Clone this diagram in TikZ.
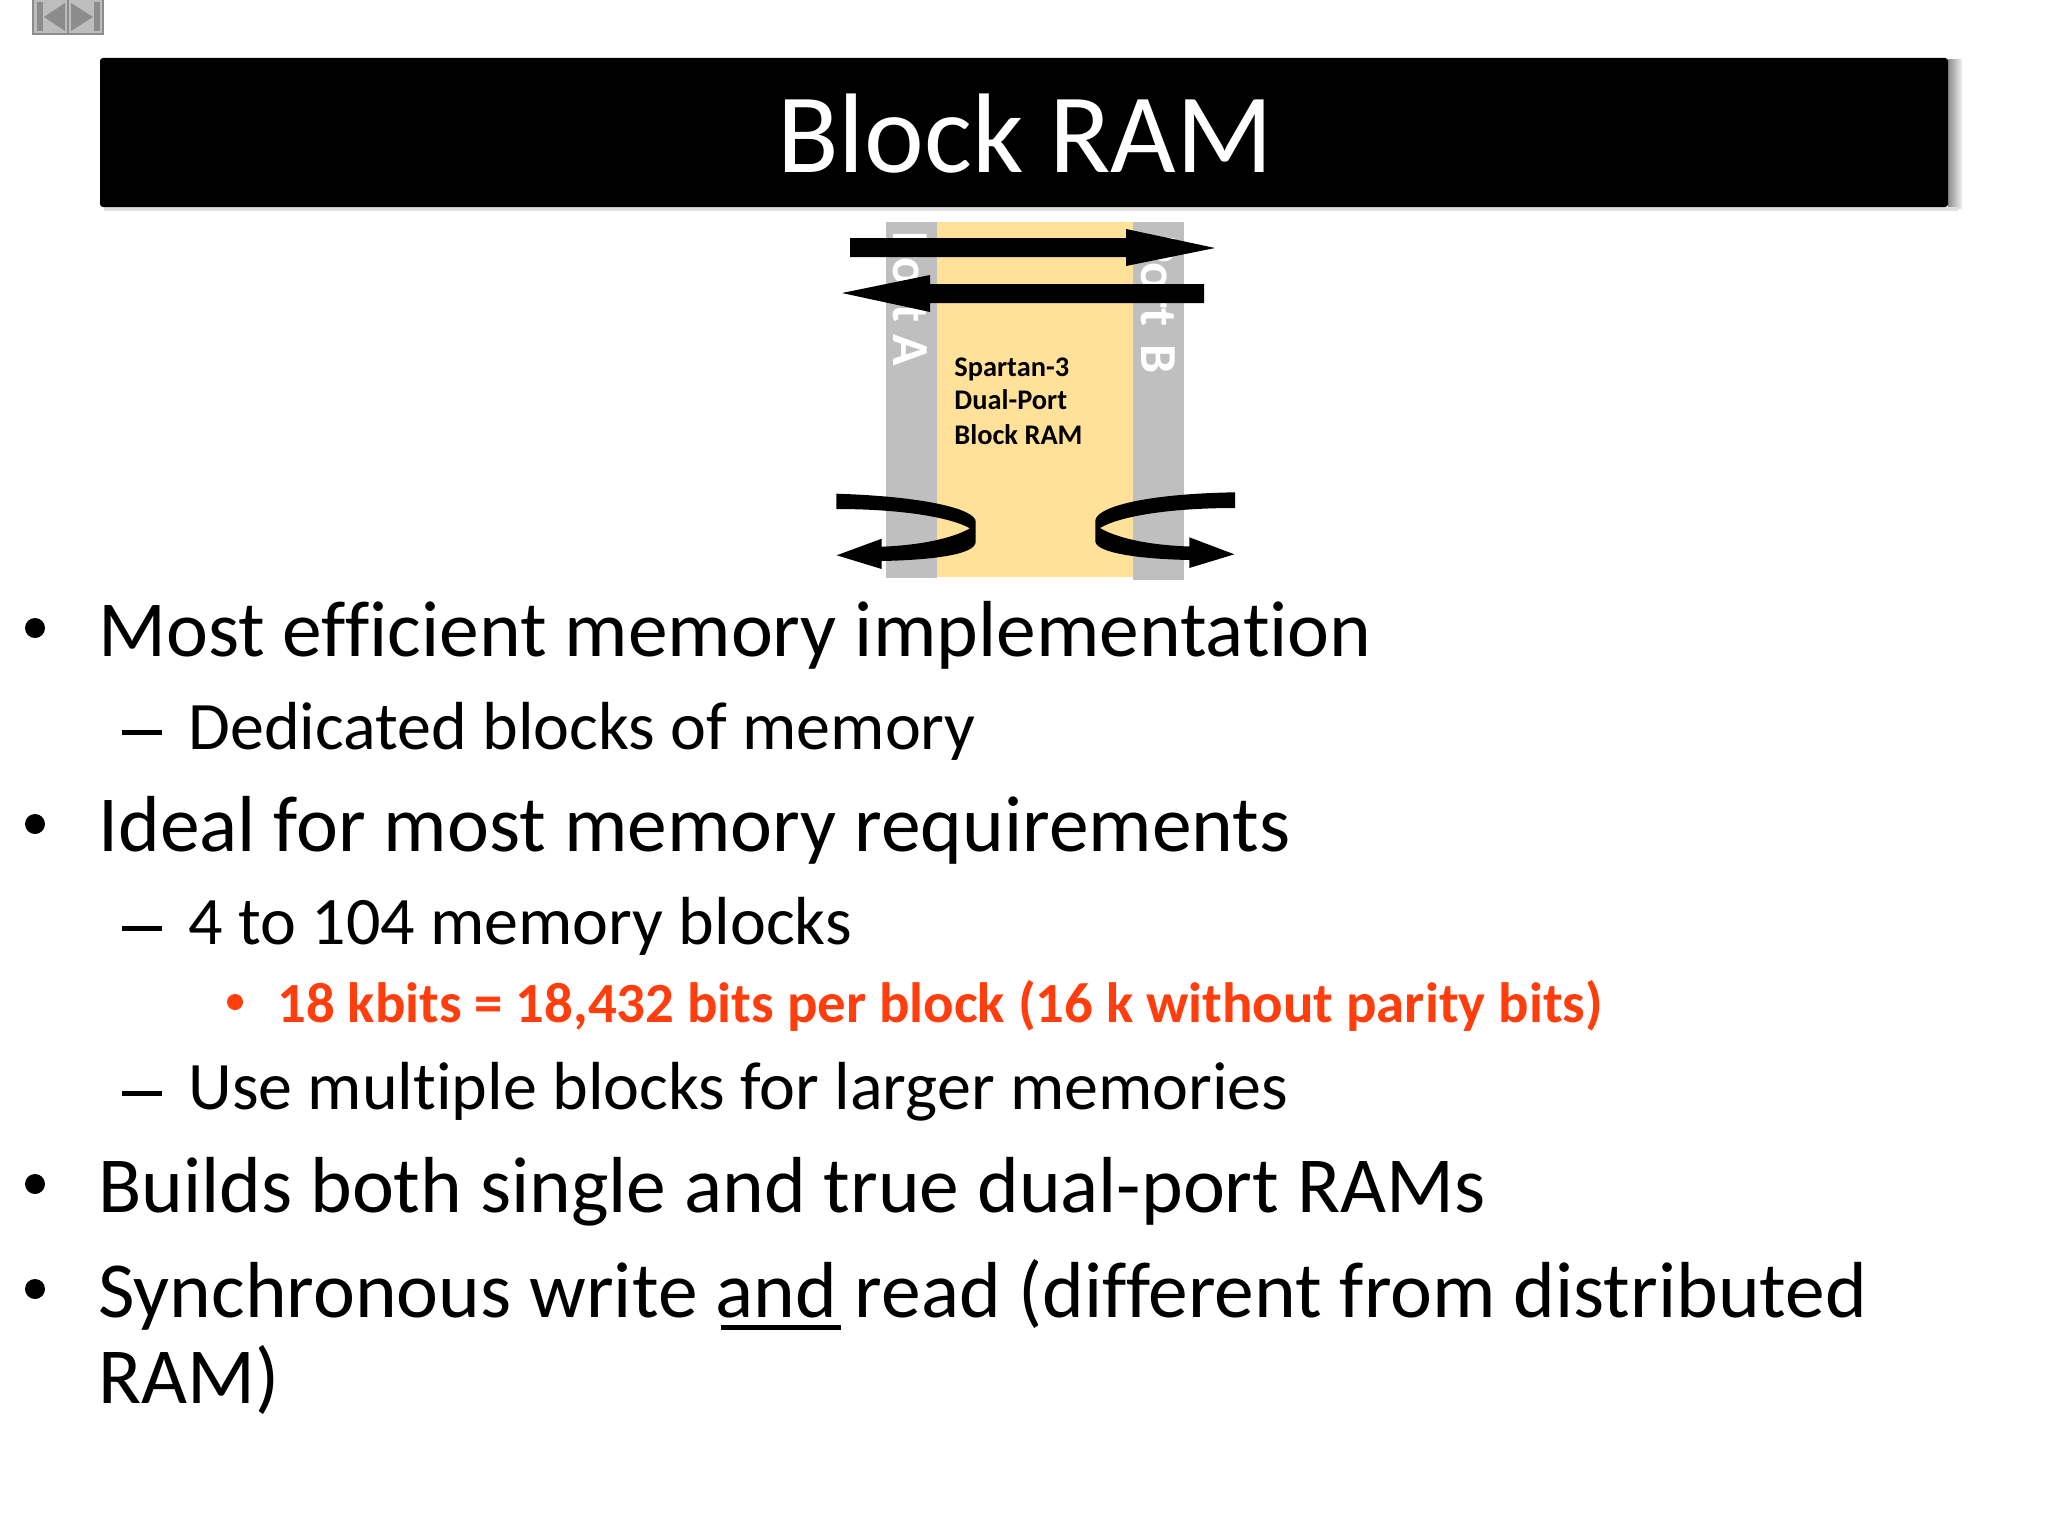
\documentclass[tikz,border=0pt]{standalone}
\usepackage{fontspec}
\setmainfont{Carlito}[Ligatures=CommonOff]
\definecolor{ramyellow}{HTML}{FFE199}
\definecolor{portgray}{HTML}{BFBFBF}
\definecolor{navgray}{HTML}{8C8C8C}
\definecolor{navfill}{HTML}{BDBDBD}
\definecolor{hotred}{HTML}{FF3D0D}
\tikzset{
  lvlone/.style={anchor=base west,inner sep=0pt,font=\fontsize{39.72}{39.72}\selectfont,text=black},
  lvltwo/.style={anchor=base west,inner sep=0pt,font=\fontsize{34}{34}\selectfont,text=black},
  lvlthree/.style={anchor=base west,inner sep=0pt,font=\fontsize{28.4}{28.4}\selectfont\bfseries,text=hotred},
  ramlabel/.style={anchor=base west,inner sep=0pt,font=\fontsize{14.2}{14.2}\selectfont\bfseries},
  portlabel/.style={inner sep=0pt,rotate=-90,anchor=base east,text=white,font=\fontsize{26}{26}\selectfont\bfseries}
}
\begin{document}
\begin{tikzpicture}[x=0.5pt,y=-0.5pt]
\useasboundingbox (0,0) rectangle (2048,1536);
\fill[white] (0,0) rectangle (2048,1536);
% nav buttons
\fill[navfill,draw=navgray,line width=1.2pt] (33,-2) rectangle (103,34);
\draw[navgray,line width=1pt] (68,-2) -- (68,34);
\fill[navgray] (37,2) rectangle (43,31);
\fill[navgray] (65,3) -- (65,31) -- (44,17) -- cycle;
\fill[navgray] (71,3) -- (71,31) -- (93,17) -- cycle;
\fill[navgray] (94,2) rectangle (100,31);
% title bar
\shade[left color=black!45,right color=black!5] (1948,60) rectangle (1962,208);
\fill[black!12] (104,207) rectangle (1958,211);
\fill[black,rounded corners=1.5pt] (100,58) rectangle (1948,207);
\node[inner sep=0pt,anchor=base,text=white,font=\fontsize{56.6}{56.6}\selectfont] (title) at (1025,172) {Block RAM};
% block ram
\fill[portgray] (886,222) rectangle (937,578);
\fill[portgray] (1133,222) rectangle (1184,580);
\fill[ramyellow] (937,222) rectangle (1133,577);
\node[portlabel] (porta) at (893,366) {Port A};
\node[portlabel] (portb) at (1141,374) {Port\hspace{3pt} B};
\node[ramlabel] (r1) at (954,376) {Spartan-3};
\node[ramlabel] (r2) at (954,409) {Dual-Port};
\node[ramlabel] (r3) at (954,444) {Block RAM};
% straight arrows
\fill[black] (850,238) -- (1126,238) -- (1126,229) -- (1215,248) -- (1126,266) -- (1126,257) -- (850,257) -- cycle;
\fill[black] (1204,284) -- (930,284) -- (930,275) -- (842,293) -- (930,312) -- (930,303) -- (1204,303) -- cycle;
% curved arrows
\fill[black] (836.3,493.7) .. controls (930,496.7) and (975.7,510) .. (975.7,521.7)
  -- (975.7,541.7) .. controls (975.7,555) and (930,560) .. (881.7,561)
  -- (881.7,569) -- (836.7,555.3) -- (881.7,538.7) -- (881.7,546.7)
  .. controls (925,545) and (955,537) .. (970,528.3)
  .. controls (950,517) and (900,509) .. (836.3,509) -- cycle;
\fill[black] (1235,492.3) .. controls (1140,494) and (1095.3,508) .. (1095.3,521)
  -- (1095.3,541) .. controls (1095.3,553) and (1140,559) .. (1189.3,560)
  -- (1189.3,568) -- (1234.3,554.3) -- (1189.3,537.3) -- (1189.3,546.5)
  .. controls (1145,545) and (1115,537) .. (1100,528)
  .. controls (1120,516) and (1170,508) .. (1235,508) -- cycle;
% bullets
\node[lvlone] (b1) at (98,656) {Most efficient memory implementation};
\node[lvltwo] (b1a) at (188,749) {Dedicated blocks of memory};
\node[lvlone] (b2) at (98,851) {Ideal for most memory requirements};
\node[lvltwo] (b2a) at (188,944) {4 to 104 memory blocks};
\node[lvlthree] (b2b) at (277,1022) {18 kbits = 18,432 bits per block (16 k without parity bits)};
\node[lvltwo] (b2c) at (188,1109) {Use multiple blocks for larger memories};
\node[lvlone] (b3) at (98,1212) {Builds both single and true dual-port RAMs};
\node[lvlone] (b4) at (98,1317) {Synchronous write and read (different from distributed};
\node[lvlone] (b4b) at (98,1403) {RAM)};
\fill[black] (721,1325) rectangle (841,1329.5);
\fill[black] (35,628) circle (10);
\fill[black] (35,824) circle (10);
\fill[black] (35,1184) circle (10);
\fill[black] (35,1289) circle (10);
\fill[black] (122,729.5) rectangle (162,734.5);
\fill[black] (122,925.5) rectangle (162,930.5);
\fill[black] (122,1090.5) rectangle (162,1095.5);
\fill[hotred] (235,1002) circle (8);
\end{tikzpicture}
\end{document}
